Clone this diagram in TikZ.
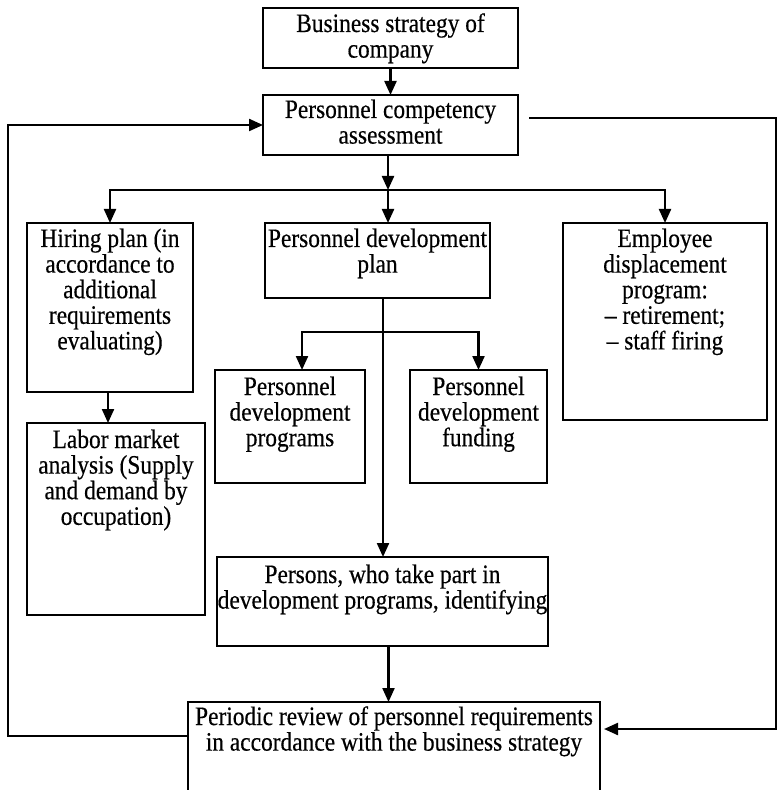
\documentclass[tikz,border=0pt]{standalone}
\usepackage{fontspec}
\setmainfont{Liberation Serif}[FakeStretch=0.88, FakeBold=0.4]
\usetikzlibrary{arrows.meta}

% box text: width, height, first-baseline depth, lines
\newcommand\boxcontent[4]{\parbox[c][#2][t]{#1}{\centering\rule{0pt}{#3}#4\par}}

\tikzset{
  box/.style={draw, line width=1.4pt, inner sep=0pt, outer sep=0pt,
              anchor=north west, font=\fontsize{13.3}{12.8}\selectfont},
  conn/.style={line width=1.1pt},
  arr/.style={conn, -{Triangle[length=7pt,width=6pt]}}
}

\begin{document}
\begin{tikzpicture}[x=0.5pt, y=-0.5pt]
\useasboundingbox (0,0) rectangle (777,790);
\clip (0,0) rectangle (777,790);

% boxes
\node[box] (biz)   at (263,8)   {\boxcontent{127.5pt}{30pt}{12pt}{Business strategy of\\company}};
\node[box] (comp)  at (263,95)  {\boxcontent{127.5pt}{30pt}{11.5pt}{Personnel competency\\assessment}};
\node[box] (hire)  at (27,223)  {\boxcontent{83pt}{84.5pt}{12pt}{Hiring plan (in\\accordance to\\additional\\requirements\\evaluating)}};
\node[box] (pdp)   at (265,223) {\boxcontent{112.5pt}{37.5pt}{12pt}{\mbox{Personnel development}\\plan}};
\node[box] (emp)   at (563,223) {\boxcontent{102pt}{98.5pt}{12pt}{Employee\\displacement\\program:\\– retirement;\\– staff firing}};
\node[box] (labor) at (27,423)  {\boxcontent{89pt}{96pt}{12.5pt}{Labor market\\analysis (Supply\\and demand by\\occupation)}};
\node[box] (prog)  at (215,370) {\boxcontent{75pt}{56.5pt}{12.5pt}{Personnel\\development\\programs}};
\node[box] (fund)  at (410,370) {\boxcontent{68.5pt}{56.5pt}{12.5pt}{Personnel\\development\\funding}};
\node[box] (pers)  at (217,557) {\boxcontent{165.5pt}{44.5pt}{13pt}{Persons, who take part in\\\mbox{development programs, identifying}}};
\node[box] (rev)   at (188,702) {\boxcontent{206pt}{60pt}{11.5pt}{\mbox{Periodic review of personnel requirements}\\\mbox{in accordance with the business strategy}}};

% junction points
\coordinate (br)  at (388,190);
\coordinate (dn)  at (383,332);
\coordinate (lo)  at (8,736);
\coordinate (ro1) at (529,118);
\coordinate (ro2) at (776,118);
\coordinate (ri)  at (604,729);

% main flow
\draw[arr] (biz) -- (comp);
\draw[arr] (comp.south -| br) -- (br);
\draw[arr] (br) -| (hire.north);
\draw[arr] (br) -| (emp.north);
\draw[arr] (br) -- (br |- pdp.north);
\draw[arr] ([xshift=-1pt]hire.south) -- ([xshift=-1pt]hire.south |- labor.north);

% development branch
\draw[conn] (pdp.south -| dn) -- (dn);
\draw[arr] (dn) -| ([xshift=6pt]prog.north);
\draw[arr] (dn) -| (fund.north);
\draw[arr] (dn) -- (dn |- pers.north);
\draw[arr] ([xshift=3pt]pers.south) -- ([xshift=3pt]pers.south |- rev.north);

% feedback loops
\draw[arr] (rev.west |- lo) -- (lo) |- (comp.west);
\draw[arr] (ro1) -- (ro2) |- (ri);
\end{tikzpicture}
\end{document}
